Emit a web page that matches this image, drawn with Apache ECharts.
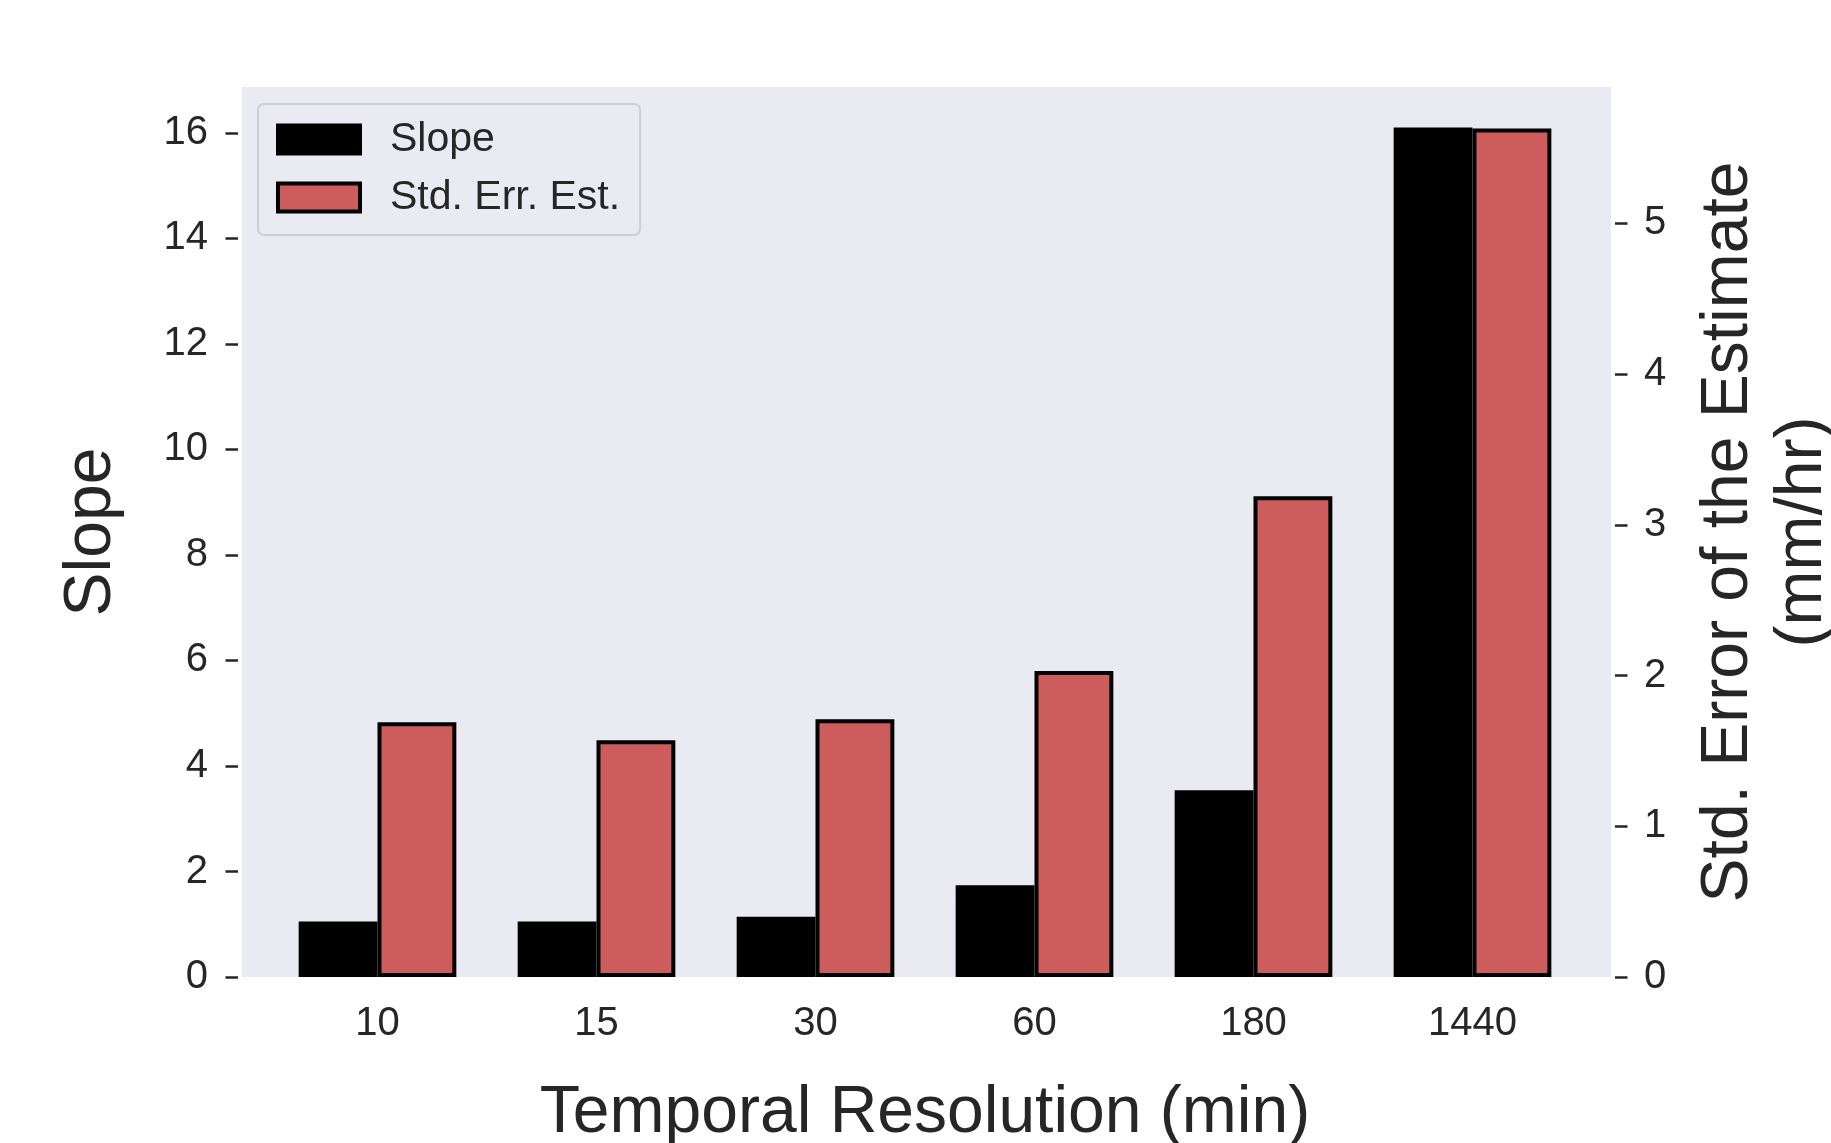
<!DOCTYPE html>
<html>
<head>
<meta charset="utf-8">
<script src="https://cdn.jsdelivr.net/npm/echarts@6/dist/echarts.min.js"></script>
<style>
  html, body { margin: 0; padding: 0; background: #fff; }
  #barChart { width: 1831px; height: 1143px; }
</style>
</head>
<body>
<div id="barChart"></div>
<script>
// temporal resolution (min)
const categories = ['10', '15', '30', '60', '180', '1440']
// left axis
const slopeValues = [1.05, 1.05, 1.14, 1.74, 3.54, 16.1]
// right axis (mm/hr)
const stdErrValues = [1.69, 1.57, 1.71, 2.03, 3.19, 5.63]
const slopeTicks = [0, 2, 4, 6, 8, 10, 12, 14, 16]
const stdErrTicks = [0, 1, 2, 3, 4, 5]

const textColor = '#262626'
const fontFamily = '"Liberation Sans", Arial, sans-serif'

const chart = echarts.init(document.getElementById('barChart'))

const option = {
  animation: false,
  textStyle: { fontFamily: fontFamily },
  // plot background (seaborn dark style), a bit wider than the category band
  graphic: [{
    type: 'rect',
    left: 242,
    top: 87,
    z: -10,
    shape: { width: 1369, height: 890 },
    style: { fill: '#EAEAF2' }
  }],
  grid: {
    left: 268,
    right: 249,
    top: 87,
    bottom: 166,
    outerBoundsMode: 'none' // titles are allowed to run off the page like the original
  },
  legend: {
    orient: 'vertical',
    left: 258,
    top: 104,
    padding: [15, 20, 17, 18],
    itemWidth: 82,
    itemHeight: 28,
    itemGap: 17,
    icon: 'rect',
    backgroundColor: 'rgba(234,234,242,0.8)',
    borderColor: '#cfcfcf',
    borderWidth: 2,
    borderRadius: 6,
    itemStyle: { borderColor: '#000', borderWidth: 4 },
    textStyle: {
      fontSize: 41,
      color: textColor,
      padding: [0, 0, 0, 25],
      fontFamily: fontFamily
    },
    data: ['Slope', 'Std. Err. Est.']
  },
  xAxis: {
    type: 'category',
    data: categories,
    axisLine: { show: false },
    axisTick: { show: false },
    axisLabel: { fontSize: 40, color: textColor, margin: 27, fontFamily: fontFamily },
    name: 'Temporal Resolution (min)',
    nameLocation: 'middle',
    nameGap: 104,
    nameTextStyle: { fontSize: 66, color: textColor, fontFamily: fontFamily }
  },
  yAxis: [
    {
      type: 'value',
      position: 'left',
      min: 0,
      max: 16.87,
      offset: 30,
      axisLine: { show: false },
      splitLine: { show: false },
      axisTick: {
        show: true,
        length: 12.5,
        customValues: slopeTicks,
        lineStyle: { color: textColor, width: 2.5 }
      },
      axisLabel: {
        customValues: slopeTicks,
        margin: 30,
        fontSize: 40,
        color: textColor,
        fontFamily: fontFamily
      },
      name: 'Slope',
      nameLocation: 'middle',
      nameGap: 113,
      nameRotate: 90,
      nameTextStyle: { fontSize: 66, color: textColor, fontFamily: fontFamily }
    },
    {
      type: 'value',
      position: 'right',
      min: 0,
      max: 5.905,
      offset: 33,
      axisLine: { show: false },
      splitLine: { show: false },
      axisTick: {
        show: true,
        length: 12.5,
        customValues: stdErrTicks,
        lineStyle: { color: textColor, width: 2.5 }
      },
      axisLabel: {
        customValues: stdErrTicks,
        margin: 29,
        fontSize: 40,
        color: textColor,
        fontFamily: fontFamily
      },
      name: 'Std. Error of the Estimate\n(mm/hr)',
      nameLocation: 'middle',
      nameGap: 77,
      nameRotate: 90,
      nameTextStyle: { fontSize: 66, lineHeight: 74, color: textColor, fontFamily: fontFamily }
    }
  ],
  series: [
    {
      name: 'Slope',
      type: 'bar',
      yAxisIndex: 0,
      data: slopeValues,
      barWidth: '36%', // echarts keeps the border inside the bar
      barGap: '0%',
      itemStyle: { color: '#000', borderColor: '#000', borderWidth: 4 }
    },
    {
      name: 'Std. Err. Est.',
      type: 'bar',
      yAxisIndex: 1,
      data: stdErrValues,
      barWidth: '36%',
      barGap: '0%',
      itemStyle: { color: '#CD5C5C', borderColor: '#000', borderWidth: 4 }
    }
  ]
}

chart.setOption(option)
</script>
</body>
</html>
